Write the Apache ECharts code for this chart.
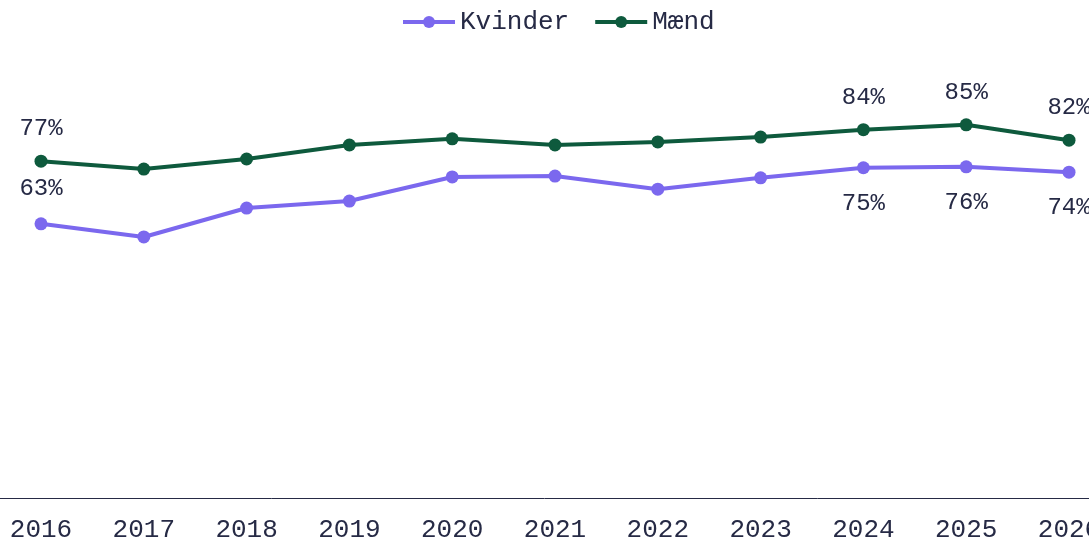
<!DOCTYPE html>
<html>
<head>
<meta charset="utf-8">
<script src="https://cdn.jsdelivr.net/npm/echarts@6/dist/echarts.min.js"></script>
<style>html,body{margin:0;padding:0;background:#fff}#c{width:1089px;height:541px}</style>
</head>
<body>
<div id="c"></div>
<script>
const categories = ['2016','2017','2018','2019','2020','2021','2022','2023','2024','2025','2026'];
const kvinder = [62.6, 59.6, 66.2, 67.8, 73.3, 73.5, 70.5, 73.1, 75.4, 75.6, 74.4];
const maend = [76.9, 75.1, 77.4, 80.6, 82.0, 80.6, 81.3, 82.4, 84.1, 85.2, 81.7];
const labelIdx = [0, 8, 9, 10];

const FONT = '"Liberation Mono", "Courier New", monospace';
const TXT = '#262a45';

function mk(vals, pos0, posRest) {
  return vals.map((v, i) => ({
    value: v,
    label: {
      show: labelIdx.includes(i),
      position: i === 0 ? pos0 : posRest
    }
  }));
}

const chart = echarts.init(document.getElementById('c'));
chart.setOption({
  animation: false,
  textStyle: { fontFamily: FONT },
  legend: {
    top: 4, left: 396,
    itemWidth: 52, itemHeight: 15, itemGap: 24,
    lineStyle: { width: 4 },
    textStyle: { fontFamily: FONT, fontSize: 26, color: TXT },
    data: ['Kvinder', 'Mænd']
  },
  grid: { left: -10.4, right: -31.4, top: 60, bottom: 43, containLabel: false, outerBoundsMode: 'none' },
  xAxis: {
    type: 'category', data: categories, boundaryGap: true,
    axisLine: { lineStyle: { color: TXT, width: 1 } },
    axisTick: { show: false },
    axisLabel: { fontFamily: FONT, fontSize: 26, color: TXT, margin: 19 }
  },
  yAxis: {
    type: 'value', min: 0, max: 100,
    show: false, splitLine: { show: false }
  },
  series: [
    {
      name: 'Kvinder', type: 'line', data: mk(kvinder, 'top', 'bottom'),
      symbol: 'circle', symbolSize: 13,
      lineStyle: { width: 4, color: '#7b68ee' },
      itemStyle: { color: '#7b68ee' },
      label: { fontFamily: FONT, fontSize: 24, color: TXT, distance: 17, formatter: p => Math.round(p.value) + '%' }
    },
    {
      name: 'Mænd', type: 'line', data: mk(maend, 'top', 'top'),
      symbol: 'circle', symbolSize: 13,
      lineStyle: { width: 4, color: '#0e5a3d' },
      itemStyle: { color: '#0e5a3d' },
      label: { fontFamily: FONT, fontSize: 24, color: TXT, distance: 14, formatter: p => Math.round(p.value) + '%' }
    }
  ]
});
</script>
</body>
</html>
